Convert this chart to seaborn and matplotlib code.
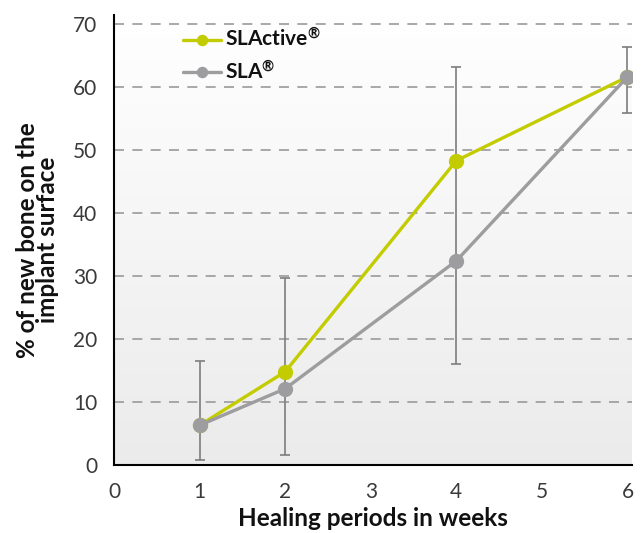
import matplotlib
matplotlib.use('Agg')
import matplotlib.pyplot as plt
import seaborn as sns
import pandas as pd
import numpy as np

weeks = [1, 2, 4, 6]
slactive = [6.3, 14.8, 48.3, 61.6]
sla = [6.3, 12.1, 32.4, 61.6]
err_low = [0.8, 1.6, 16.0, 55.9]
err_high = [16.5, 29.7, 63.2, 66.4]
series_names = ['SLActive$^{®}$', 'SLA$^{®}$']

df = pd.DataFrame({
    'week': weeks * 2,
    'value': slactive + sla,
    'series': [series_names[0]] * len(weeks) + [series_names[1]] * len(weeks),
})

sns.set_style('white')
plt.rcParams['font.family'] = ['Lato', 'DejaVu Sans']
plt.rcParams['mathtext.fontset'] = 'custom'
plt.rcParams['mathtext.rm'] = 'Lato:bold'
plt.rcParams['mathtext.it'] = 'Lato:bold'

fig = plt.figure(figsize=(6.44, 5.33), dpi=100)
ax = fig.add_axes([0.177, 0.1276, 0.804, 0.8444])

# background gradient
grad = np.linspace(0, 1, 256).reshape(-1, 1)
ax.imshow(grad, extent=[0, 6.05, 0, 71.43], aspect='auto', origin='upper',
          cmap=matplotlib.colors.LinearSegmentedColormap.from_list('bg', ['#ffffff', '#ebebeb']),
          zorder=0)

for v in range(10, 71, 10):
    ax.axhline(v, color='#9a9a9a', lw=1.2, ls=(0, (6, 5)), zorder=1)

mid = [(a + b) / 2 for a, b in zip(err_low, err_high)]
yerr = [[m - a for m, a in zip(mid, err_low)], [b - m for m, b in zip(mid, err_high)]]
ax.errorbar(weeks, mid, yerr=yerr, fmt='none', ecolor='#7d7d7d', elinewidth=1.2,
            capsize=3.5, capthick=1.2, zorder=2)

sns.lineplot(data=df, x='week', y='value', hue='series', palette=['#c3cc00', '#9d9d9f'],
             marker='o', markersize=11, markeredgewidth=0, linewidth=2.4, ax=ax, zorder=3)

ax.set_xlim(0, 6.05)
ax.set_ylim(0, 71.43)
ax.set_xticks(range(0, 7))
ax.set_yticks(range(0, 71, 10))
for s in ['top', 'right']:
    ax.spines[s].set_visible(False)
for s in ['left', 'bottom']:
    ax.spines[s].set_color('black')
    ax.spines[s].set_linewidth(1.5)
ax.tick_params(axis='both', direction='out', length=7, width=1.5, color='#9a9a9a',
               labelsize=15, labelcolor='#3a3a3a', pad=5)

ax.set_xlabel('Healing periods in weeks', fontsize=17.5, fontweight='bold', labelpad=4,
              color='#111111')
ax.set_ylabel('% of new bone on the\nimplant surface', fontsize=17.5, fontweight='bold',
              labelpad=10, linespacing=0.85, color='#111111')

leg = ax.legend(loc='upper left', bbox_to_anchor=(0.11, 1.0), frameon=False,
                prop={'weight': 'bold', 'size': 15}, handlelength=1.8, markerscale=0.75,
                handletextpad=0.2, labelspacing=0.45, borderaxespad=0.2)
for t in leg.get_texts():
    t.set_color('#111111')

fig.savefig('out.png', dpi=100)
